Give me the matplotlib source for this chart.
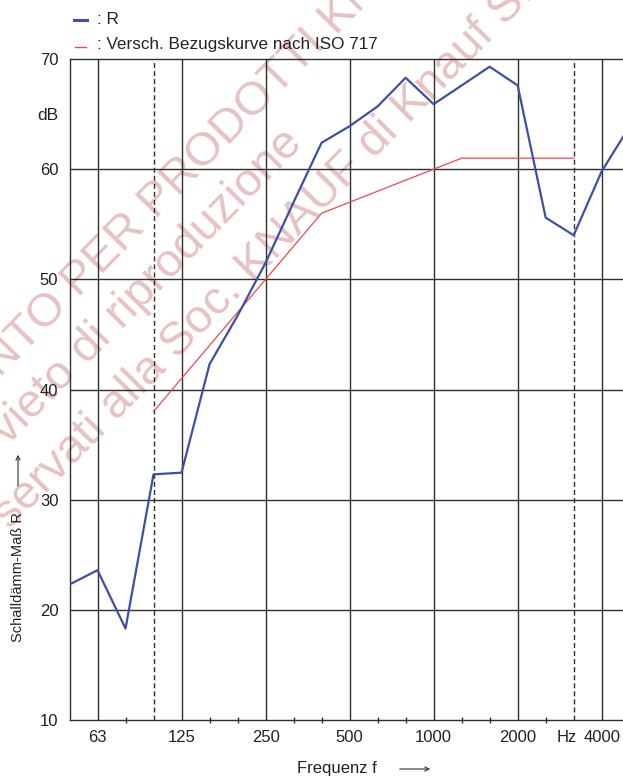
import numpy as np
import matplotlib

matplotlib.use("Agg")
import matplotlib.pyplot as plt
import matplotlib.transforms as mtransforms

plt.rcParams["font.family"] = ["Liberation Sans", "DejaVu Sans"]

# third-octave bands shown on the x axis (50 Hz .. 5000 Hz)
bands = [50, 63, 80, 100, 125, 160, 200, 250, 315, 400, 500, 630, 800,
         1000, 1250, 1600, 2000, 2500, 3150, 4000, 5000]

# measured sound reduction index R (dB)
r_values = [22.3, 23.6, 18.3, 32.3, 32.45, 42.3, 46.7, 51.5, 57.0, 62.4,
            63.9, 65.7, 68.3, 65.9, 67.6, 69.3, 67.6, 55.6, 54.0, 59.8, 63.9]

# shifted reference curve (ISO 717), 100 Hz .. 3150 Hz
ref_bands = [100, 125, 160, 200, 250, 315, 400, 500, 630, 800, 1000,
             1250, 1600, 2000, 2500, 3150]
ref_values = [38, 41, 44, 47, 50, 53, 56, 57, 58, 59, 60, 61, 61, 61, 61, 61]

tick_bands = [63, 125, 250, 500, 1000, 2000, 3150, 4000]
tick_labels = ["63", "125", "250", "500", "1000", "2000", "Hz", "4000"]
solid_bands = [63, 125, 250, 500, 1000, 2000, 4000]
dashed_bands = [100, 3150]
y_grid = [20, 30, 40, 50, 60]

W, H = 623, 776
GRID = "#2e2e2e"
BLUE = "#3e50a2"
RED = "#f04848"
WATER = "#e6c2c2"


def fx(px):
    return px / W


def fy(py):
    return 1 - py / H


def idx(freqs):
    return [bands.index(f) for f in freqs]


fig = plt.figure(figsize=(W / 100, H / 100), dpi=100)
fig.patch.set_facecolor("white")
ax = fig.add_axes([fx(69.5), fy(720), fx(629.7) - fx(69.5), fy(59) - fy(720)])
ax.set_facecolor("none")

# watermark behind the chart
wm_lines = [
    ("NTO PER PRODOTTI KNAUF", 0, 378),
    ("vieto di riproduzione", 8, 446),
    ("servati alla Soc. KNAUF di Knauf S.a.s.", 10, 530),
]
for txt, px, py in wm_lines:
    fig.text(fx(px), fy(py), txt, rotation=45.5, rotation_mode="anchor",
             ha="left", va="baseline", fontsize=34, color=WATER, zorder=-5)

for f in solid_bands:
    ax.axvline(bands.index(f), color=GRID, lw=1.0, zorder=1)
for f in dashed_bands:
    ax.axvline(bands.index(f), color=GRID, lw=1.0, dashes=(3.6, 2.2), zorder=1)
for v in y_grid:
    ax.axhline(v, color=GRID, lw=1.0, zorder=1)

ax.plot(idx(ref_bands), ref_values, color=RED, lw=0.9, zorder=3)
ax.plot(range(len(bands)), r_values, color=BLUE, lw=1.6, zorder=4)

ax.set_xlim(0, len(bands) - 1)
ax.set_ylim(10, 70)
ax.set_xticks(idx(tick_bands))
ax.set_xticklabels(tick_labels)
minor = [i for i, f in enumerate(bands) if f not in tick_bands + dashed_bands and i > 0]
ax.set_xticks(minor, minor=True)
ax.set_yticks([10, 20, 30, 40, 50, 60, 70])
ax.tick_params(axis="both", which="major", length=0, labelsize=12,
               labelcolor="#222222")
ax.tick_params(axis="x", which="major", pad=7)
ax.tick_params(axis="y", which="major", pad=8)
ax.tick_params(axis="x", which="minor", direction="inout", length=4,
               width=1.0, color=GRID)
for side in ["left", "top", "bottom", "right"]:
    ax.spines[side].set_color(GRID)
    ax.spines[side].set_linewidth(1.0)

# the "Hz" unit label sits a little left of its band
hz_label = ax.get_xticklabels()[tick_labels.index("Hz")]
hz_label.set_transform(hz_label.get_transform()
                       + mtransforms.ScaledTranslation(-7 / 100, 0, fig.dpi_scale_trans))

# legend drawn by hand like the original
fig.add_artist(plt.Line2D([fx(74), fx(87)], [fy(20), fy(20)], color=BLUE, lw=2.2))
fig.text(fx(97), fy(20), ": R", fontsize=12.3, va="center", ha="left",
         color="#222222")
fig.add_artist(plt.Line2D([fx(75), fx(86)], [fy(46.5), fy(46.5)], color=RED, lw=1.0))
fig.text(fx(97), fy(45), ": Versch. Bezugskurve nach ISO 717", fontsize=12.3,
         va="center", ha="left", color="#222222")

fig.text(fx(48), fy(116), "dB", fontsize=12.5, ha="center", va="center",
         color="#222222")

# axis titles with arrows
fig.text(fx(18), fy(577), "Schalldämm-Maß R", rotation=90, fontsize=10.5,
         ha="center", va="center", color="#222222")
fig.add_artist(matplotlib.patches.FancyArrowPatch(
    (fx(18), fy(489)), (fx(18), fy(452)), transform=fig.transFigure,
    arrowstyle="->,head_length=3,head_width=1.5", color="#333333", lw=0.8))

fig.text(fx(337), fy(773), "Frequenz f", fontsize=12, ha="center",
         va="baseline", color="#222222")
fig.add_artist(matplotlib.patches.FancyArrowPatch(
    (fx(397), fy(769)), (fx(433), fy(769)), transform=fig.transFigure,
    arrowstyle="->,head_length=3,head_width=1.5", color="#333333", lw=0.8))

fig.savefig("out.png", dpi=100)
